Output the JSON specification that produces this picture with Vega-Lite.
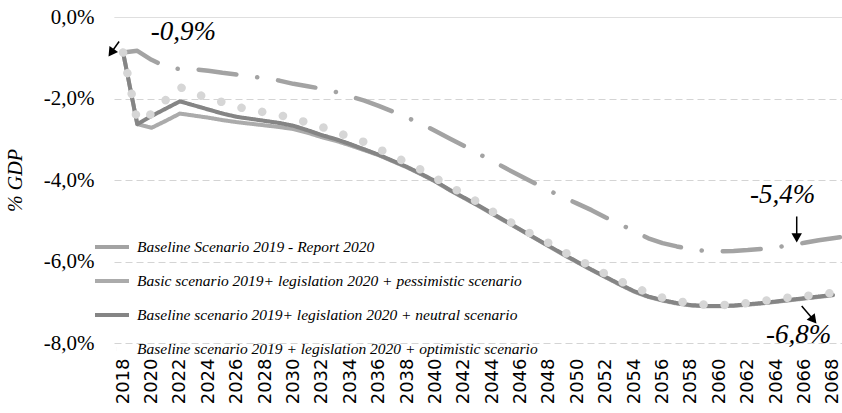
{
  "$schema": "https://vega.github.io/schema/vega-lite/v6.json",
  "width": 842,
  "height": 413,
  "autosize": {"type": "fit", "contains": "padding"},
  "padding": {"left": 5, "top": 6, "right": 0, "bottom": 9},
  "background": "white",
  "config": {"view": {"stroke": null}, "font": "Liberation Serif", "axis": {"labelOverlap": false}, "axisX": {"labelOverlap": false, "labelSeparation": -20}},
  "datasets": {
    "series": [
      {"year": 2018, "b": -0.87, "p": -0.87, "n": -0.87, "o": -0.87},
      {"year": 2019, "b": -0.83, "p": -2.63, "n": -2.63, "o": -2.55},
      {"year": 2020, "b": -1.05, "p": -2.72, "n": -2.43, "o": -2.38},
      {"year": 2021, "b": -1.22, "p": -2.55, "n": -2.25, "o": -2.04},
      {"year": 2022, "b": -1.28, "p": -2.37, "n": -2.07, "o": -1.72},
      {"year": 2023, "b": -1.28, "p": -2.42, "n": -2.17, "o": -1.87},
      {"year": 2024, "b": -1.32, "p": -2.47, "n": -2.27, "o": -1.99},
      {"year": 2025, "b": -1.37, "p": -2.53, "n": -2.37, "o": -2.09},
      {"year": 2026, "b": -1.41, "p": -2.58, "n": -2.45, "o": -2.2},
      {"year": 2027, "b": -1.46, "p": -2.62, "n": -2.5, "o": -2.28},
      {"year": 2028, "b": -1.5, "p": -2.66, "n": -2.55, "o": -2.34},
      {"year": 2029, "b": -1.56, "p": -2.7, "n": -2.6, "o": -2.41},
      {"year": 2030, "b": -1.64, "p": -2.75, "n": -2.67, "o": -2.48},
      {"year": 2031, "b": -1.7, "p": -2.84, "n": -2.78, "o": -2.6},
      {"year": 2032, "b": -1.76, "p": -2.95, "n": -2.9, "o": -2.7},
      {"year": 2033, "b": -1.84, "p": -3.04, "n": -3.0, "o": -2.82},
      {"year": 2034, "b": -1.95, "p": -3.15, "n": -3.12, "o": -2.95},
      {"year": 2035, "b": -2.05, "p": -3.27, "n": -3.25, "o": -3.07},
      {"year": 2036, "b": -2.18, "p": -3.39, "n": -3.38, "o": -3.24},
      {"year": 2037, "b": -2.32, "p": -3.54, "n": -3.53, "o": -3.4},
      {"year": 2038, "b": -2.47, "p": -3.69, "n": -3.68, "o": -3.58},
      {"year": 2039, "b": -2.62, "p": -3.86, "n": -3.85, "o": -3.75},
      {"year": 2040, "b": -2.8, "p": -4.04, "n": -4.03, "o": -3.95},
      {"year": 2041, "b": -2.98, "p": -4.25, "n": -4.24, "o": -4.16},
      {"year": 2042, "b": -3.16, "p": -4.44, "n": -4.43, "o": -4.34},
      {"year": 2043, "b": -3.35, "p": -4.63, "n": -4.62, "o": -4.55},
      {"year": 2044, "b": -3.53, "p": -4.83, "n": -4.82, "o": -4.77},
      {"year": 2045, "b": -3.72, "p": -5.03, "n": -5.02, "o": -4.97},
      {"year": 2046, "b": -3.9, "p": -5.23, "n": -5.22, "o": -5.19},
      {"year": 2047, "b": -4.08, "p": -5.43, "n": -5.42, "o": -5.37},
      {"year": 2048, "b": -4.26, "p": -5.63, "n": -5.62, "o": -5.55},
      {"year": 2049, "b": -4.42, "p": -5.83, "n": -5.82, "o": -5.76},
      {"year": 2050, "b": -4.58, "p": -6.02, "n": -6.01, "o": -5.94},
      {"year": 2051, "b": -4.74, "p": -6.21, "n": -6.2, "o": -6.13},
      {"year": 2052, "b": -4.92, "p": -6.39, "n": -6.38, "o": -6.31},
      {"year": 2053, "b": -5.08, "p": -6.57, "n": -6.56, "o": -6.48},
      {"year": 2054, "b": -5.26, "p": -6.74, "n": -6.73, "o": -6.63},
      {"year": 2055, "b": -5.43, "p": -6.87, "n": -6.86, "o": -6.77},
      {"year": 2056, "b": -5.55, "p": -6.96, "n": -6.95, "o": -6.89},
      {"year": 2057, "b": -5.63, "p": -7.03, "n": -7.02, "o": -6.97},
      {"year": 2058, "b": -5.7, "p": -7.08, "n": -7.07, "o": -7.03},
      {"year": 2059, "b": -5.74, "p": -7.1, "n": -7.09, "o": -7.06},
      {"year": 2060, "b": -5.75, "p": -7.1, "n": -7.09, "o": -7.07},
      {"year": 2061, "b": -5.74, "p": -7.09, "n": -7.08, "o": -7.06},
      {"year": 2062, "b": -5.72, "p": -7.06, "n": -7.05, "o": -7.02},
      {"year": 2063, "b": -5.69, "p": -7.03, "n": -7.02, "o": -6.97},
      {"year": 2064, "b": -5.65, "p": -6.99, "n": -6.98, "o": -6.93},
      {"year": 2065, "b": -5.6, "p": -6.95, "n": -6.94, "o": -6.88},
      {"year": 2066, "b": -5.54, "p": -6.91, "n": -6.9, "o": -6.85},
      {"year": 2067, "b": -5.48, "p": -6.87, "n": -6.86, "o": -6.81},
      {"year": 2068, "b": -5.43, "p": -6.83, "n": -6.82, "o": -6.77},
      {"year": 2069, "b": -5.38}
    ],
    "names": [
      {"key": "b", "name": "Baseline Scenario 2019 - Report 2020"},
      {"key": "p", "name": "Basic scenario 2019+ legislation 2020 + pessimistic scenario"},
      {"key": "n", "name": "Baseline scenario 2019+ legislation 2020 + neutral scenario"},
      {"key": "o", "name": "Baseline scenario 2019 + legislation 2020 + optimistic scenario"}
    ],
    "notes": [
      {"year": 2022.25, "value": -0.36, "label": "-0,9%"},
      {"year": 2064.46, "value": -4.38, "label": "-5,4%"},
      {"year": 2065.59, "value": -7.8, "label": "-6,8%"}
    ],
    "arrows": [
      {"year": 2017.72, "value": -0.6, "year2": 2017.22, "value2": -0.846, "angle": 215.5},
      {"year": 2065.45, "value": -4.895, "year2": 2065.45, "value2": -5.383, "angle": 180},
      {"year": 2065.8, "value": -7.09, "year2": 2066.57, "value2": -7.407, "angle": 140.5}
    ]
  },
  "encoding": {
    "x": {
      "field": "year", "type": "quantitative",
      "scale": {"domain": [2017.36, 2068.64], "nice": false, "zero": false},
      "axis": {
        "values": [2018, 2020, 2022, 2024, 2026, 2028, 2030, 2032, 2034, 2036, 2038, 2040, 2042, 2044, 2046, 2048, 2050, 2052, 2054, 2056, 2058, 2060, 2062, 2064, 2066, 2068],
        "format": "d", "labelAngle": 270, "labelFont": "DejaVu Sans", "labelFontSize": 18,
        "labelColor": "#000000", "ticks": false, "domain": false, "grid": false,
        "labelPadding": 15, "title": null, "labelOverlap": false, "labelSeparation": -20, "labelBound": false
      }
    },
    "y": {
      "field": "value", "type": "quantitative",
      "scale": {"domain": [-8, 0], "nice": false, "zero": false},
      "axis": {
        "values": [-8, -6, -4, -2, 0],
        "labelExpr": "(datum.value < 0 ? '-' : '') + replace(format(abs(datum.value), '.1f'), '.', ',') + '%'",
        "labelFont": "Liberation Serif", "labelFontSize": 21, "labelColor": "#000000",
        "labelPadding": 20, "ticks": false, "domain": false,
        "grid": true, "gridColor": "#d4d4d4", "gridWidth": 1,
        "gridDash": {"condition": {"test": "datum.value === 0", "value": [1, 0]}, "value": [7, 4]},
        "title": "% GDP", "titleFont": "Liberation Serif", "titleFontStyle": "italic",
        "titleFontWeight": "normal", "titleFontSize": 20, "titleColor": "#000000", "titlePadding": 18
      }
    }
  },
  "layer": [
    {
      "data": {"name": "series"},
      "transform": [
        {"fold": ["b", "p", "n", "o"], "as": ["key", "value"]},
        {"filter": "isValid(datum.value)"},
        {"lookup": "key", "from": {"data": {"name": "names"}, "key": "key", "fields": ["name"]}}
      ],
      "encoding": {
        "color": {
          "field": "name", "type": "nominal",
          "scale": {
            "domain": ["Baseline Scenario 2019 - Report 2020", "Basic scenario 2019+ legislation 2020 + pessimistic scenario", "Baseline scenario 2019+ legislation 2020 + neutral scenario", "Baseline scenario 2019 + legislation 2020 + optimistic scenario"],
            "range": ["#a3a3a3", "#ababab", "#858585", "#d6d6d6"]
          },
          "legend": {
            "orient": "none", "legendX": -21, "legendY": 211, "title": null,
            "symbolType": "stroke", "symbolSize": 1156, "symbolStrokeWidth": 4,
            "labelFont": "Liberation Serif", "labelFontStyle": "italic", "labelFontSize": 15.5,
            "labelColor": "#000000", "labelLimit": 0, "labelOffset": 6, "rowPadding": 6, "padding": 0
          }
        },
        "strokeDash": {
          "field": "name", "type": "nominal",
          "scale": {
            "domain": ["Baseline Scenario 2019 - Report 2020", "Basic scenario 2019+ legislation 2020 + pessimistic scenario", "Baseline scenario 2019+ legislation 2020 + neutral scenario", "Baseline scenario 2019 + legislation 2020 + optimistic scenario"],
            "range": [[38, 21, 0.1, 21], [1, 0], [1, 0], [0.1, 21]]
          },
          "legend": null
        }
      },
      "layer": [
        {"transform": [{"filter": "datum.key === 'b'"}], "mark": {"type": "line", "strokeWidth": 4.5, "strokeCap": "round", "strokeJoin": "round", "clip": true}},
        {"transform": [{"filter": "datum.key === 'p'"}], "mark": {"type": "line", "strokeWidth": 4, "strokeCap": "round", "strokeJoin": "round", "clip": true}},
        {"transform": [{"filter": "datum.key === 'n'"}], "mark": {"type": "line", "strokeWidth": 4, "strokeCap": "round", "strokeJoin": "round", "clip": true}},
        {"transform": [{"filter": "datum.key === 'o'"}], "mark": {"type": "line", "strokeWidth": 8.5, "strokeCap": "round", "strokeJoin": "round", "clip": true}}
      ]
    },
    {
      "data": {"name": "arrows"},
      "mark": {"type": "rule", "color": "#000000", "strokeWidth": 1.5},
      "encoding": {
        "x2": {"field": "year2"},
        "y2": {"field": "value2"}
      }
    },
    {
      "data": {"name": "arrows"},
      "mark": {"type": "point", "shape": "triangle", "filled": true, "color": "#000000", "size": 110, "opacity": 1},
      "encoding": {
        "x": {"field": "year2", "type": "quantitative"},
        "y": {"field": "value2", "type": "quantitative"},
        "angle": {"field": "angle", "type": "quantitative", "scale": null}
      }
    },
    {
      "data": {"name": "notes"},
      "mark": {"type": "text", "font": "Liberation Serif", "fontStyle": "italic", "fontSize": 27, "color": "#000000", "align": "center", "baseline": "middle"},
      "encoding": {
        "text": {"field": "label"}
      }
    }
  ]
}
